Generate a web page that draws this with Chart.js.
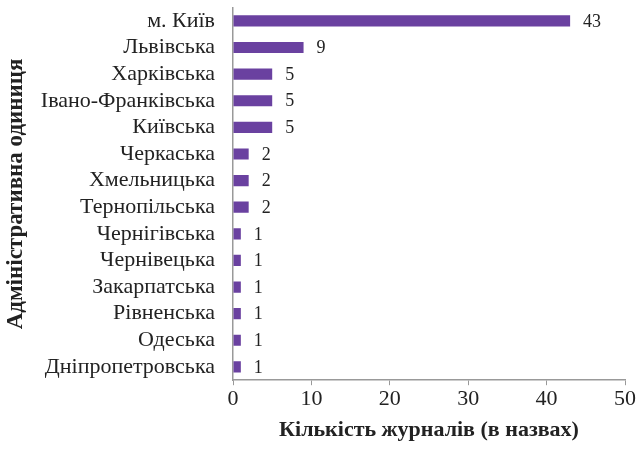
<!DOCTYPE html>
<html>
<head>
<meta charset="utf-8">
<script src="https://cdn.jsdelivr.net/npm/chart.js@4"></script>
<style>
  html, body { margin: 0; padding: 0; background: #fff; }
  #wrap { width: 637px; height: 450px; }
</style>
</head>
<body>
<div id="wrap"><canvas id="barChart"></canvas></div>
<script>
// дані
const regions = ['м. Київ', 'Львівська', 'Харківська', 'Івано-Франківська', 'Київська', 'Черкаська',
  'Хмельницька', 'Тернопільська', 'Чернігівська', 'Чернівецька', 'Закарпатська', 'Рівненська',
  'Одеська', 'Дніпропетровська']
const journals = [43, 9, 5, 5, 5, 2, 2, 2, 1, 1, 1, 1, 1, 1]
const xTicks = [0, 10, 20, 30, 40, 50]

const serif = "'Liberation Serif', 'Times New Roman', serif"

// підписи значень біля кінця смуги
const valueLabels = {
  id: 'valueLabels',
  afterDatasetsDraw(chart) {
    const ctx = chart.ctx
    const meta = chart.getDatasetMeta(0)
    ctx.save()
    ctx.font = '18px ' + serif
    ctx.fillStyle = '#222'
    ctx.textBaseline = 'middle'
    meta.data.forEach((bar, i) => {
      ctx.fillText(String(journals[i]), bar.x + 13, bar.y + 1)
    })
    ctx.restore()
  }
}

const ctx = document.getElementById('barChart').getContext('2d')
new Chart(ctx, {
  type: 'bar',
  data: {
    labels: regions,
    datasets: [{
      data: journals,
      backgroundColor: '#6a41a0',
      categoryPercentage: 0.42,
      barPercentage: 1
    }]
  },
  options: {
    indexAxis: 'y',
    responsive: true,
    maintainAspectRatio: false,
    animation: false,
    layout: { padding: { top: 0, right: 12, left: 2, bottom: 6 } },
    plugins: {
      legend: { display: false },
      tooltip: { enabled: false }
    },
    scales: {
      x: {
        min: 0,
        max: 50,
        afterBuildTicks: (scale) => { scale.ticks = xTicks.map(v => ({ value: v })) },
        grid: { drawOnChartArea: false, drawTicks: true, tickLength: 5, color: '#999' },
        border: { color: '#999', width: 1.5 },
        ticks: { color: '#222', font: { family: serif, size: 22 }, padding: 1 },
        title: {
          display: true,
          text: 'Кількість журналів (в назвах)',
          color: '#222',
          font: { family: serif, size: 22, weight: 'bold' },
          padding: { top: 4, bottom: 0 }
        }
      },
      y: {
        afterFit: (scale) => { scale.width = 231 },
        // невидимі риски замість відступу, щоб не збільшувати верхнє поле
        grid: { drawOnChartArea: false, drawTicks: true, tickLength: 17, color: 'transparent' },
        border: { color: '#999', width: 1.5 },
        ticks: { color: '#222', font: { family: serif, size: 22, lineHeight: 0.6 }, padding: 1, autoSkip: false },
        title: {
          display: true,
          text: 'Адміністративна одиниця',
          color: '#222',
          font: { family: serif, size: 23, weight: 'bold' },
          padding: { top: 0, bottom: 0 }
        }
      }
    }
  },
  plugins: [valueLabels]
})
</script>
</body>
</html>
